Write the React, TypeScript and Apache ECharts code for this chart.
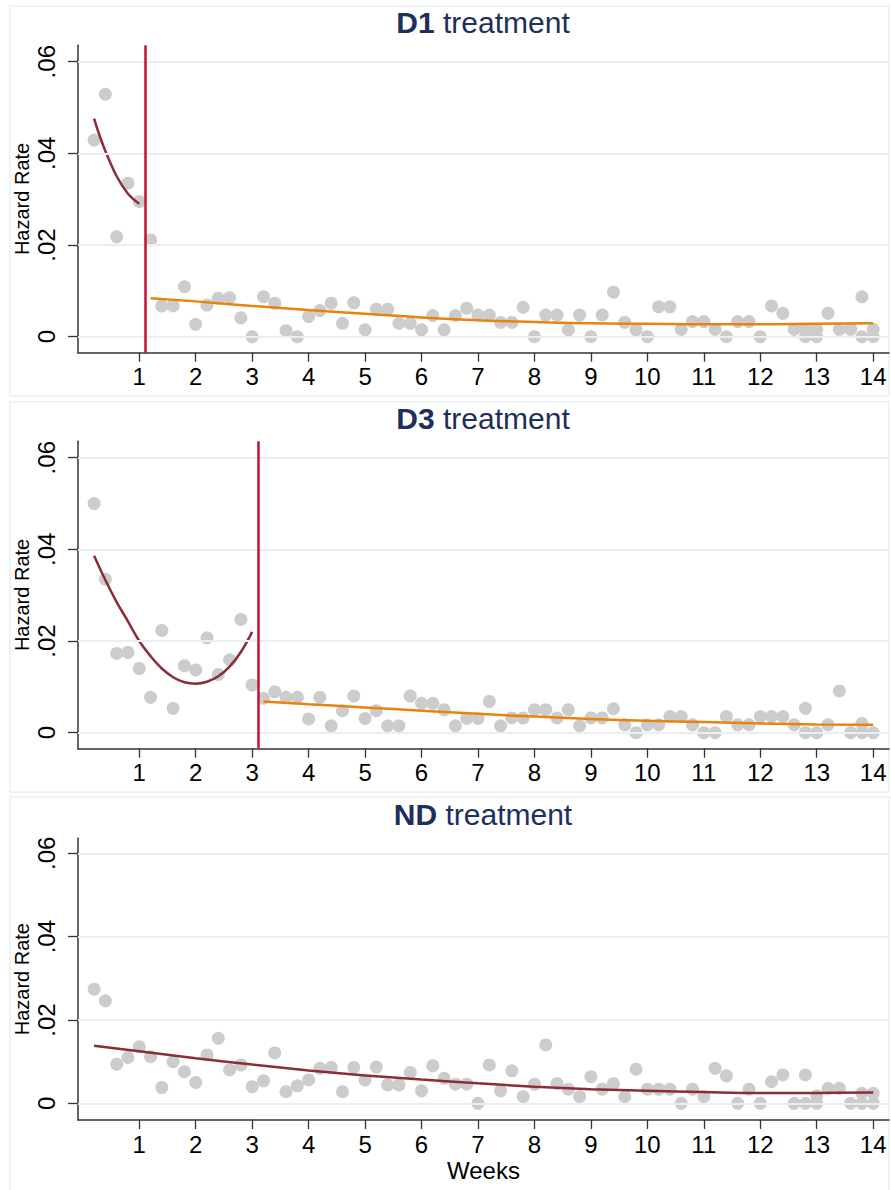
import React, { useEffect, useRef } from "react";
import * as echarts from "echarts";

const weeks = [
  0.2, 0.4, 0.6, 0.8, 1.0, 1.2, 1.4, 1.6, 1.8, 2.0,
  2.2, 2.4, 2.6, 2.8, 3.0, 3.2, 3.4, 3.6, 3.8, 4.0,
  4.2, 4.4, 4.6, 4.8, 5.0, 5.2, 5.4, 5.6, 5.8, 6.0,
  6.2, 6.4, 6.6, 6.8, 7.0, 7.2, 7.4, 7.6, 7.8, 8.0,
  8.2, 8.4, 8.6, 8.8, 9.0, 9.2, 9.4, 9.6, 9.8, 10.0,
  10.2, 10.4, 10.6, 10.8, 11.0, 11.2, 11.4, 11.6, 11.8, 12.0,
  12.2, 12.4, 12.6, 12.8, 13.0, 13.2, 13.4, 13.6, 13.8, 14.0,
];

const d1Hazard = [
  0.0429, 0.0529, 0.0218, 0.0335, 0.0295, 0.0211, 0.0067, 0.0067, 0.0109, 0.0027,
  0.0069, 0.0084, 0.0085, 0.0041, 0.0, 0.0087, 0.0073, 0.0013, 0.0, 0.0044,
  0.0057, 0.0073, 0.0029, 0.0074, 0.0015, 0.006, 0.006, 0.0029, 0.0029, 0.0015,
  0.0046, 0.0015, 0.0046, 0.0062, 0.0047, 0.0047, 0.0031, 0.0031, 0.0064, 0.0,
  0.0047, 0.0047, 0.0015, 0.0047, 0.0, 0.0047, 0.0097, 0.0031, 0.0015, 0.0,
  0.0065, 0.0065, 0.0016, 0.0033, 0.0033, 0.0016, 0.0, 0.0033, 0.0033, 0.0,
  0.0067, 0.0051, 0.0016, 0.0016, 0.0016, 0.0051, 0.0016, 0.0016, 0.0087, 0.0016,
];
const d1Extra = [[12.8, 0], [13.0, 0], [13.8, 0], [14.0, 0]];

const d3Hazard = [
  0.05, 0.0335, 0.0173, 0.0175, 0.014, 0.0077, 0.0223, 0.0053, 0.0146, 0.0137,
  0.0207, 0.0127, 0.0159, 0.0247, 0.0104, 0.0075, 0.0089, 0.0077, 0.0077, 0.003,
  0.0077, 0.0015, 0.0048, 0.008, 0.0031, 0.0048, 0.0015, 0.0015, 0.008, 0.0064,
  0.0064, 0.005, 0.0015, 0.0031, 0.0031, 0.0068, 0.0015, 0.0032, 0.0032, 0.005,
  0.005, 0.0032, 0.005, 0.0015, 0.0032, 0.0032, 0.0052, 0.0017, 0.0, 0.0017,
  0.0017, 0.0035, 0.0035, 0.0017, 0.0, 0.0, 0.0035, 0.0017, 0.0017, 0.0035,
  0.0035, 0.0035, 0.0017, 0.0053, 0.0, 0.0017, 0.0091, 0.0, 0.002, 0.0,
];
const d3Extra = [[12.8, 0], [13.8, 0]];

const ndHazard = [
  0.0274, 0.0246, 0.0094, 0.011, 0.0136, 0.0112, 0.0038, 0.01, 0.0076, 0.005,
  0.0116, 0.0156, 0.008, 0.0092, 0.004, 0.0054, 0.0121, 0.0028, 0.0042, 0.0056,
  0.0084, 0.0086, 0.0028, 0.0086, 0.0056, 0.0087, 0.0044, 0.0044, 0.0074, 0.003,
  0.009, 0.006, 0.0046, 0.0046, 0.0, 0.0092, 0.003, 0.0078, 0.0016, 0.0046,
  0.014, 0.0047, 0.0034, 0.0016, 0.0064, 0.0034, 0.0047, 0.0016, 0.0082, 0.0034,
  0.0034, 0.0034, 0.0, 0.0034, 0.0016, 0.0084, 0.0066, 0.0, 0.0034, 0.0,
  0.0052, 0.0068, 0.0, 0.0068, 0.0, 0.0036, 0.0036, 0.0, 0.0024, 0.0024,
];
const ndExtra = [[12.8, 0], [13.0, 0.0018], [13.8, 0], [14.0, 0]];

// fitted curves
const d1FitBefore = [[0.2, 0.0476], [0.3, 0.0438], [0.4, 0.0405], [0.6, 0.035], [0.8, 0.0312], [1.0, 0.029]];
const d1FitAfter = [
  [1.2, 0.0084], [2, 0.0077], [3, 0.0067], [4, 0.0058], [5, 0.005], [6, 0.0042], [7, 0.0036],
  [8, 0.0032], [9, 0.0029], [10, 0.0028], [11, 0.0027], [12, 0.0027], [13, 0.0028], [14, 0.0029],
];
const d3FitBefore = [
  [0.2, 0.0386], [0.4, 0.0333], [0.6, 0.0285], [0.8, 0.0243], [1.0, 0.02], [1.2, 0.0167],
  [1.4, 0.014], [1.6, 0.0121], [1.8, 0.011], [2.0, 0.0107], [2.2, 0.0111], [2.4, 0.0123],
  [2.6, 0.0144], [2.8, 0.0176], [3.0, 0.022],
];
const d3FitAfter = [
  [3.2, 0.0068], [4, 0.0062], [5, 0.0055], [6, 0.0048], [7, 0.0041], [8, 0.0035], [9, 0.003],
  [10, 0.0026], [11, 0.0023], [12, 0.002], [13, 0.0018], [14, 0.0017],
];
const ndFit = [
  [0.2, 0.0138], [1, 0.0125], [2, 0.0108], [3, 0.0093], [4, 0.0079], [5, 0.0067], [6, 0.0057],
  [7, 0.0048], [8, 0.004], [9, 0.0034], [10, 0.003], [11, 0.0027], [12, 0.0025], [13, 0.0025],
  [14, 0.0026],
];

const cutoffs = [1.1, 3.1];
const xTicks = [1, 2, 3, 4, 5, 6, 7, 8, 9, 10, 11, 12, 13, 14];
const yTicks = [0, 0.02, 0.04, 0.06];
const titles = ["D1", "D3", "ND"];

const FONT = "'Liberation Sans', Arial, Helvetica, sans-serif";
const NAVY = "#1e2f5c";
const DOT = "#cccccc";
const MAROON = "#8a2d38";
const ORANGE = "#e8830d";
const CRIMSON = "#c8102e";
const GRID = "#e7eff3";
const AXIS = "#333333";

const fmtY = (v: number) => (v === 0 ? "0" : String(v).replace(/^0/, ""));

export default function App() {
  const ref = useRef<HTMLDivElement>(null);

  useEffect(() => {
    if (!ref.current) return;
    const chart = echarts.init(ref.current, undefined, { renderer: "svg" });

    const panels = [
      { top: 45.2, height: 307.5, ymin: -0.0035, ymax: 0.0636, titleY: 22, box: [10, 6, 879, 390] },
      { top: 441.2, height: 307.5, ymin: -0.0035, ymax: 0.0636, titleY: 418, box: [10, 402, 879, 390] },
      { top: 838.3, height: 281.7, ymin: -0.004, ymax: 0.0636, titleY: 814, box: [10, 797, 879, 400] },
    ];

    const toPts = (vals: number[], extra: number[][]) =>
      weeks.map((w, i) => [w, vals[i]]).concat(extra);

    const grids = panels.map((p) => ({
      left: 78,
      top: p.top,
      width: 811,
      height: p.height,
      containLabel: false,
      outerBoundsMode: "none",
    }));

    const xAxes = panels.map((p, i) => ({
      type: "value",
      gridIndex: i,
      min: -0.085,
      max: 14.28,
      axisLine: { show: true, onZero: false, lineStyle: { color: AXIS, width: 1.5 } },
      axisTick: { show: true, length: 9, customValues: xTicks, lineStyle: { color: AXIS, width: 1.3 } },
      axisLabel: { customValues: xTicks, fontSize: 24, color: "#000", margin: 12, fontFamily: FONT },
      splitLine: { show: false },
      name: i === 2 ? "Weeks" : "",
      nameLocation: "middle",
      nameGap: 38,
      nameMoveOverlap: false,
      nameTextStyle: { fontSize: 24, color: "#000", fontFamily: FONT },
    }));

    const yAxes = panels.map((p, i) => ({
      type: "value",
      gridIndex: i,
      min: p.ymin,
      max: p.ymax,
      axisLine: { show: true, onZero: false, lineStyle: { color: AXIS, width: 1.5 } },
      axisTick: { show: true, length: 10, customValues: yTicks, lineStyle: { color: AXIS, width: 1.3 } },
      axisLabel: {
        customValues: yTicks,
        rotate: 90,
        fontSize: 24,
        color: "#000",
        margin: 20,
        fontFamily: FONT,
        formatter: fmtY,
      },
      splitLine: { show: false },
      name: "Hazard Rate",
      nameLocation: "middle",
      nameGap: 46,
      nameMoveOverlap: false,
      nameTextStyle: { fontSize: 20, color: "#000", fontFamily: FONT },
    }));

    const series: any[] = [];
    const dataSets = [
      { pts: toPts(d1Hazard, d1Extra), before: d1FitBefore, after: d1FitAfter, cut: cutoffs[0] },
      { pts: toPts(d3Hazard, d3Extra), before: d3FitBefore, after: d3FitAfter, cut: cutoffs[1] },
      { pts: toPts(ndHazard, ndExtra), before: ndFit, after: null, cut: null },
    ];

    dataSets.forEach((d, i) => {
      series.push({
        type: "line",
        xAxisIndex: i,
        yAxisIndex: i,
        data: [],
        z: 1,
        silent: true,
        markLine: {
          silent: true,
          symbol: "none",
          label: { show: false },
          lineStyle: { color: GRID, width: 2, type: "solid" },
          data: yTicks.map((v) => ({ yAxis: v })),
        },
      });
      series.push({
        type: "scatter",
        xAxisIndex: i,
        yAxisIndex: i,
        data: d.pts,
        symbol: "circle",
        symbolSize: 13,
        itemStyle: { color: DOT, opacity: 1 },
        z: 2,
      });
      series.push({
        type: "line",
        xAxisIndex: i,
        yAxisIndex: i,
        data: d.before,
        smooth: 0.4,
        showSymbol: false,
        lineStyle: { color: MAROON, width: 2.5 },
        z: 3,
      });
      if (d.after) {
        series.push({
          type: "line",
          xAxisIndex: i,
          yAxisIndex: i,
          data: d.after,
          smooth: 0.5,
          showSymbol: false,
          lineStyle: { color: ORANGE, width: 2.5 },
          z: 3,
        });
      }
      if (d.cut !== null) {
        series.push({
          type: "line",
          xAxisIndex: i,
          yAxisIndex: i,
          data: [],
          z: 4,
          markLine: {
            silent: true,
            symbol: "none",
            label: { show: false },
            lineStyle: { color: CRIMSON, width: 2.5, type: "solid" },
            data: [{ xAxis: d.cut }],
          },
        });
      }
    });

    const graphic: any[] = [];
    panels.forEach((p, i) => {
      graphic.push({
        type: "rect",
        silent: true,
        z: -10,
        shape: { x: p.box[0], y: p.box[1], width: p.box[2], height: p.box[3] },
        style: { fill: "none", stroke: GRID, lineWidth: 1.5 },
      });
      graphic.push({
        type: "text",
        x: 483,
        y: p.titleY,
        silent: true,
        style: {
          text: `{b|${titles[i]}} treatment`,
          align: "center",
          verticalAlign: "middle",
          fontSize: 30,
          fontFamily: FONT,
          fill: NAVY,
          rich: { b: { fontWeight: "bold", fontSize: 30, fontFamily: FONT, fill: NAVY, color: NAVY } },
        },
      });
    });

    chart.setOption({
      animation: false,
      backgroundColor: "#ffffff",
      textStyle: { fontFamily: FONT },
      grid: grids,
      xAxis: xAxes,
      yAxis: yAxes,
      series,
      graphic,
    });

    return () => chart.dispose();
  }, []);

  return (
    <div
      ref={ref}
      style={{ position: "absolute", left: 0, top: 0, width: 891, height: 1190, background: "#fff" }}
    />
  );
}
